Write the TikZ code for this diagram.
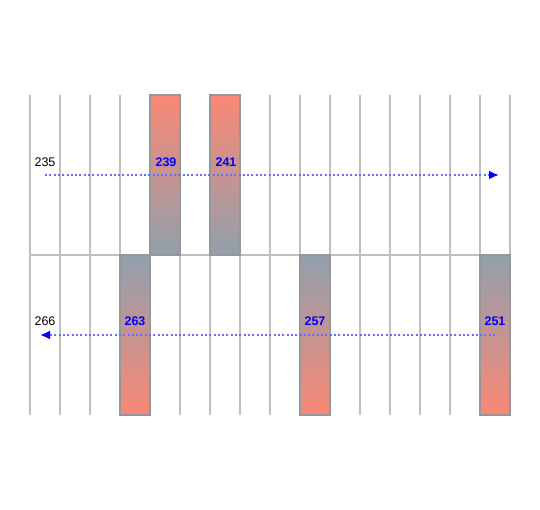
\documentclass[tikz,border=0pt]{standalone}
\usepackage{fontspec}
\setmainfont{Liberation Sans}
\usetikzlibrary{arrows.meta}
\definecolor{salm}{RGB}{250,136,116}
\definecolor{slate}{RGB}{145,160,172}
\definecolor{gridc}{RGB}{192,192,192}
\definecolor{barb}{RGB}{150,150,155}
\tikzset{
  gridline/.style={draw=gridc, line width=2pt},
  barup/.style={draw=barb, line width=1.5pt, top color=salm, bottom color=slate},
  bardown/.style={draw=barb, line width=1.5pt, top color=slate, bottom color=salm},
  lbl/.style={font=\fontsize{12.5}{14}\selectfont, text=black, inner sep=0pt},
  blbl/.style={font=\bfseries\fontsize{12.5}{14}\selectfont, text=blue, inner sep=0pt},
  dotarrow/.style={draw=blue!58, line width=2pt, dash pattern=on 2pt off 2.3pt,
    -{Latex[length=10pt,width=9pt,fill=blue,color=blue]}},
}
\begin{document}
\begin{tikzpicture}[x=1pt,y=-1pt]
\useasboundingbox (0,0) rectangle (540,510);
\fill[white] (0,0) rectangle (540,510);
% grid
\foreach \i in {0,...,16} {
  \draw[gridline] ({30+30*\i},95) -- ({30+30*\i},415);
}
\draw[gridline] (30,255) -- (510,255);
% bars
\path[barup] (150,95) rectangle (180,255);
\path[barup] (210,95) rectangle (240,255);
\path[bardown] (120,255) rectangle (150,415);
\path[bardown] (300,255) rectangle (330,415);
\path[bardown] (480,255) rectangle (510,415);
% labels
\node[lbl] (n235) at (45,162) {235};
\node[blbl] (n239) at (166,162) {239};
\node[blbl] (n241) at (226,162) {241};
\node[lbl] (n266) at (45,321) {266};
\node[blbl] (n263) at (135,321) {263};
\node[blbl] (n257) at (315,321) {257};
\node[blbl] (n251) at (495,321) {251};
% arrows
\coordinate (a1) at (45,175);
\coordinate (b1) at (499,175);
\coordinate (a2) at (495,335);
\coordinate (b2) at (40,335);
\draw[dotarrow] (a1) -- (b1);
\draw[dotarrow] (a2) -- (b2);
\end{tikzpicture}
\end{document}
